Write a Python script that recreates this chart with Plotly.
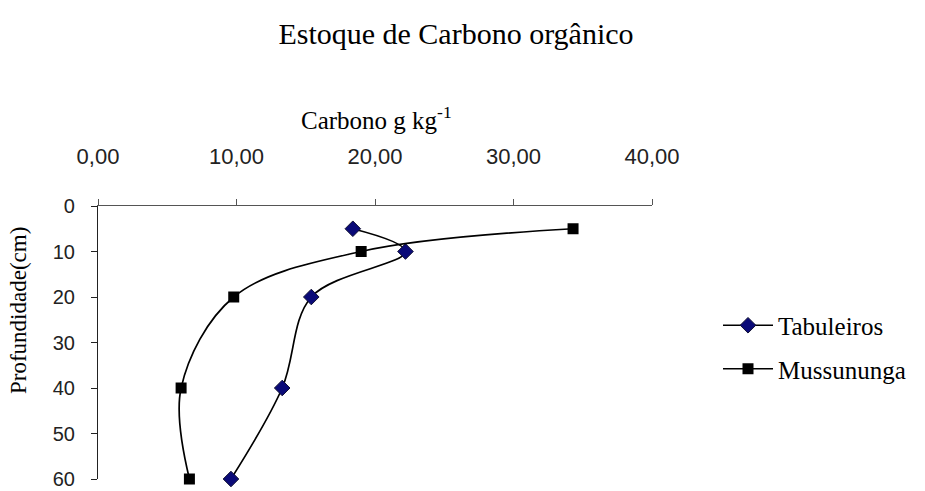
import plotly.graph_objects as go

# Depth (cm) and organic carbon (g/kg) per profile
profundidade = [5, 10, 20, 40, 60]
tabuleiros = [18.4, 22.2, 15.4, 13.3, 9.6]
mussununga = [34.3, 19.0, 9.8, 6.0, 6.6]

x_ticks = [0, 10, 20, 30, 40]
y_ticks = [0, 10, 20, 30, 40, 50, 60]

SERIF = "Liberation Serif, Times New Roman, serif"
SANS = "Liberation Sans, Arial, sans-serif"

# plot-area geometry in pixels, used to place the free-standing labels
TOP, BOTTOM = 206, 479
LEFT, RIGHT = 98, 652
H = BOTTOM - TOP
W = RIGHT - LEFT

fig = go.Figure()
fig.add_trace(go.Scatter(
    x=tabuleiros, y=profundidade, name="Tabuleiros", mode="lines+markers",
    line=dict(color="black", width=1.7, shape="spline", smoothing=1.0),
    marker=dict(symbol="diamond", size=12, color="#0a0a78",
                line=dict(color="#111133", width=1)),
    cliponaxis=False, legendgroup="a",
))
fig.add_trace(go.Scatter(
    x=mussununga, y=profundidade, name="Mussununga", mode="lines+markers",
    line=dict(color="black", width=1.7, shape="spline", smoothing=1.0),
    marker=dict(symbol="square", size=11, color="black",
                line=dict(color="black", width=0)),
    cliponaxis=False, legendgroup="b",
))

fig.update_layout(
    width=925, height=491,
    margin=dict(l=LEFT, r=925 - RIGHT, t=TOP, b=491 - BOTTOM),
    paper_bgcolor="white", plot_bgcolor="white",
    separators=",.",
    title=dict(text="Estoque de Carbono orgânico", x=456 / 925, xanchor="center",
               y=1 - 33 / 491, yanchor="middle",
               font=dict(family=SERIF, size=30, color="black")),
    xaxis=dict(
        side="top", range=[0, 40], tickvals=x_ticks, tickformat=".2f",
        showline=True, linecolor="#555555", linewidth=1.2,
        ticks="outside", ticklen=6, tickcolor="#555555", tickwidth=1.2,
        ticklabelstandoff=26, ticklabeloverflow="allow", automargin=False,
        showgrid=False, zeroline=False,
        tickfont=dict(family=SANS, size=22, color="#222222"),
    ),
    yaxis=dict(
        range=[60, 0], tickvals=y_ticks,
        showline=True, linecolor="#222222", linewidth=1.2,
        ticks="outside", ticklen=6, tickcolor="#222222", tickwidth=1.2,
        ticklabelstandoff=12, ticklabeloverflow="allow", automargin=False,
        showgrid=False, zeroline=False,
        tickfont=dict(family=SANS, size=20, color="#222222"),
    ),
    legend=dict(
        x=(718 - LEFT) / W, xanchor="left", y=(BOTTOM - 347) / H, yanchor="middle",
        font=dict(family=SERIF, size=25, color="black"),
        traceorder="grouped", tracegroupgap=8,
        bgcolor="rgba(0,0,0,0)", itemwidth=50,
    ),
    annotations=[
        dict(text="Carbono g kg<sup>-1</sup>", xref="paper", yref="paper",
             x=(376 - LEFT) / W, y=(BOTTOM - 118) / H,
             xanchor="center", yanchor="middle", showarrow=False,
             font=dict(family=SERIF, size=25, color="black")),
        dict(text="Profundidade(cm)", xref="paper", yref="paper",
             x=(18 - LEFT) / W, y=(BOTTOM - 311) / H, textangle=-90,
             xanchor="center", yanchor="middle", showarrow=False,
             font=dict(family=SERIF, size=23, color="black")),
    ],
)

fig.write_html("out.html")
